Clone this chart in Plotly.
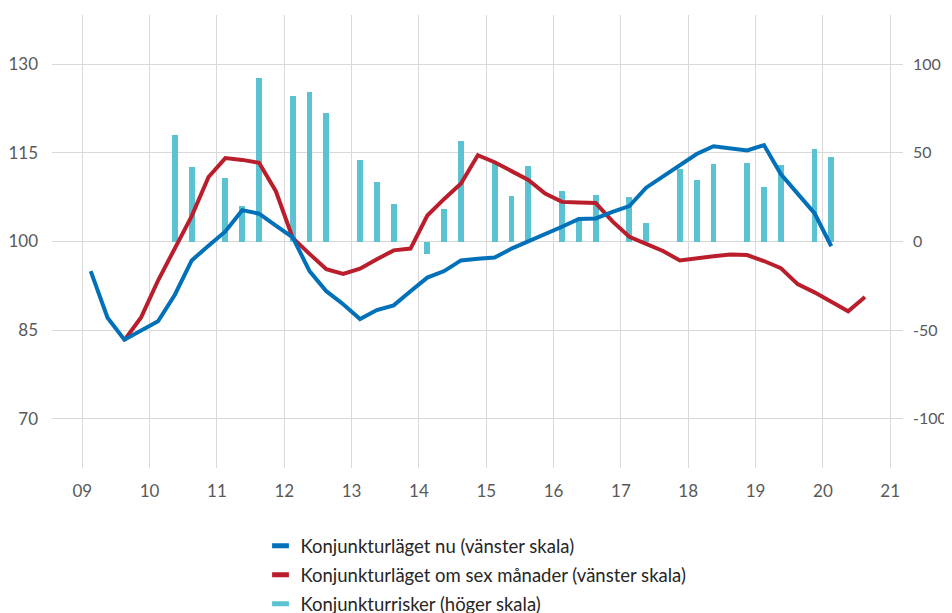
import plotly.graph_objects as go

# Quarter positions (mid-quarter), decimal years
start_year = 2009.125
n_q = 47
x_pos = [start_year + 0.25 * i for i in range(n_q)]

# Konjunkturläget nu (left scale)
nu = [95.0, 87.1, 83.4, 84.9, 86.5, 91.0, 96.8, 99.3, 101.7, 105.3,
      104.7, 102.7, 100.7, 95.0, 91.6, 89.4, 86.9, 88.4, 89.2, 91.6,
      93.9, 95.0, 96.8, 97.1, 97.3, 98.8, 100.0, 101.3, 102.5, 103.8,
      103.9, 105.0, 106.0, 109.1, 111.0, 113.1, 114.8, 116.1, 115.7, 115.4,
      116.3, 111.4, 108.1, 104.8, 99.2, None, None]

# Konjunkturläget om sex månader (left scale)
sex_man = [None, None, 83.3, 87.2, 93.4, 99.0, 104.3, 110.9, 114.1, 113.8,
           113.3, 108.5, 100.6, 97.9, 95.3, 94.5, 95.4, 97.0, 98.5, 98.8,
           104.4, 107.2, 109.8, 114.6, 113.4, 111.9, 110.4, 108.1, 106.7, 106.6,
           106.5, 103.4, 100.8, 99.6, 98.4, 96.8, 97.2, 97.5, 97.8, 97.7,
           96.7, 95.5, 92.8, 91.4, 89.8, 88.2, 90.6]

# Konjunkturrisker (right scale)
risker = [None, None, None, None, None, 60.3, 42.1, None, 35.9, 19.9,
          92.3, None, 82.3, 84.4, 72.2, None, 45.8, 33.6, 21.2, None,
          -7.0, 18.2, 56.4, None, 44.5, 25.9, 42.8, None, 28.2, 12.0,
          26.2, None, 25.2, 10.5, None, 41.0, 34.9, 43.9, None, 44.4,
          31.0, 43.4, None, 52.4, 47.7, None, None]

year_ticks = list(range(2009, 2022))
year_labels = ["09", "10", "11", "12", "13", "14", "15", "16", "17", "18", "19", "20", "21"]
left_ticks = [70, 85, 100, 115, 130]
right_ticks = [-100, -50, 0, 50, 100]
right_labels = ["-100", "-50", "0", "50", "100"]

names = ["Konjunkturläget nu (vänster skala)",
         "Konjunkturläget om sex månader (vänster skala)",
         "Konjunkturrisker (höger skala)"]
BLUE = "#0070B8"
RED = "#BA1E2C"
CYAN = "#5BC2D2"
GRID = "#D9D9D9"
TXT = "#595959"
FONT = "Lato"

fig = go.Figure()

fig.add_trace(go.Bar(x=x_pos, y=risker, yaxis="y", marker=dict(color=CYAN, line=dict(width=0)),
                     width=0.088, showlegend=False, name=names[2]))
fig.add_trace(go.Scatter(x=x_pos, y=sex_man, yaxis="y2", mode="lines",
                         line=dict(color=RED, width=4), showlegend=False, name=names[1]))
fig.add_trace(go.Scatter(x=x_pos, y=nu, yaxis="y2", mode="lines",
                         line=dict(color=BLUE, width=4), showlegend=False, name=names[0]))

# legend entries
for nm, col in zip(names, [BLUE, RED, CYAN]):
    fig.add_trace(go.Scatter(x=[None], y=[None], yaxis="y2", mode="markers", name=nm,
                             legendgroup=nm,
                             marker=dict(symbol="line-ew", size=12, color=col,
                                         line=dict(color=col, width=5))))

# page body has an 8px margin: figure is sized/offset to compensate
fig.update_layout(
    width=944, height=605,
    margin=dict(l=44, r=49, t=7, b=145, autoexpand=False),
    paper_bgcolor="white", plot_bgcolor="white",
    font=dict(family=FONT, size=17, color=TXT),
    bargap=0,
    xaxis=dict(range=[2008.55, 2021.19], tickvals=year_ticks, ticktext=year_labels,
               showgrid=True, gridcolor=GRID, gridwidth=1.3, zeroline=False,
               showline=False, ticks="", ticklabelstandoff=11,
               tickfont=dict(family=FONT, size=17, color=TXT)),
    yaxis=dict(range=[-127.7, 127.7], side="right", tickvals=right_ticks,
               ticktext=right_labels,
               showgrid=True, gridcolor=GRID, gridwidth=1.3, zeroline=False,
               showline=False, ticks="", ticklabelstandoff=9,
               tickfont=dict(family=FONT, size=16, color=TXT)),
    yaxis2=dict(range=[61.7, 138.3], side="left", overlaying="y", tickvals=left_ticks,
                showgrid=False, zeroline=False, showline=False, ticks="",
                ticklabelstandoff=13,
                tickfont=dict(family=FONT, size=17, color=TXT)),
    legend=dict(x=0.245, y=-0.1305, xanchor="left", yanchor="top",
                orientation="v", tracegroupgap=2, itemwidth=30,
                font=dict(family=FONT, size=18.5, color="#262626"),
                bgcolor="rgba(0,0,0,0)"),
)

fig.write_html("out.html")
